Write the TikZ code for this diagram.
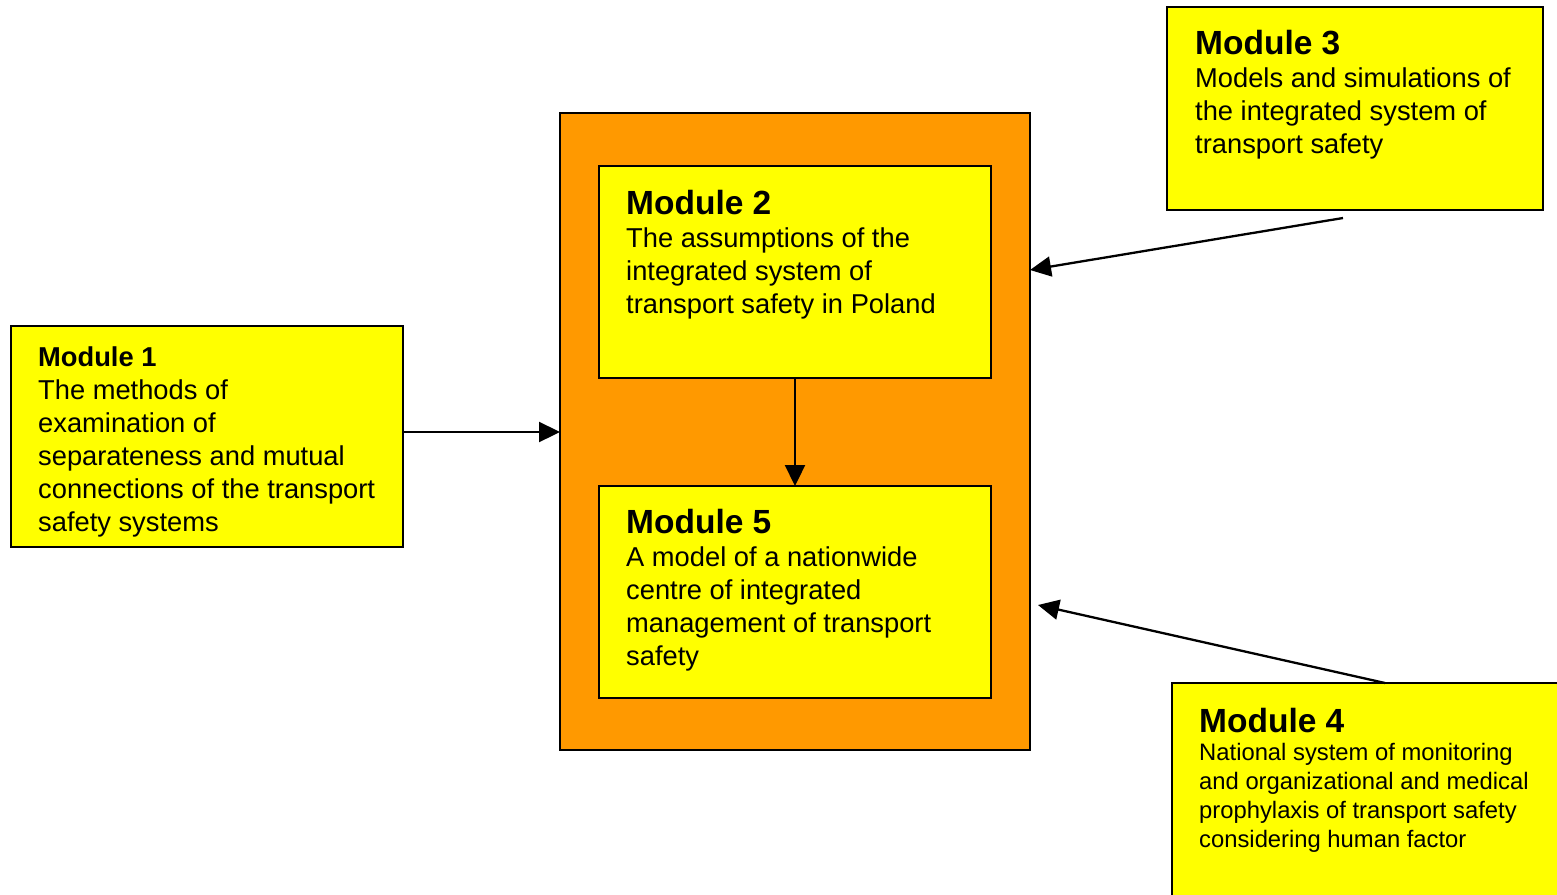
\documentclass[tikz,border=0pt]{standalone}
\usepackage{fontspec}
\setmainfont{Liberation Sans}
\usetikzlibrary{arrows.meta}
\definecolor{modyellow}{HTML}{FFFF00}
\definecolor{modorange}{HTML}{FF9900}
\tikzset{
  modbox/.style={draw=black, line width=2.3pt, fill=modyellow, anchor=north west, inner sep=0pt, outer sep=0pt},
  outerbox/.style={draw=black, line width=2.3pt, fill=modorange, anchor=north west, inner sep=0pt, outer sep=0pt},
  modtext/.style={anchor=base west, inner sep=0pt, align=left, font=\fontsize{27.3}{33}\selectfont},
  smalltext/.style={anchor=base west, inner sep=0pt, align=left, font=\fontsize{23.8}{28.7}\selectfont},
  arr/.style={line width=2.3pt, -{Triangle[length=21pt,width=20pt]}},
}
\newcommand{\modtitle}[1]{{\bfseries\fontsize{33.5}{40}\selectfont #1}}
\begin{document}
\begin{tikzpicture}[x=1pt,y=-1pt]
\useasboundingbox (0,0) rectangle (1557,894);
\clip (0,0) rectangle (1557,894);
\fill[white] (0,0) rectangle (1557,894);
% boxes
\node[outerbox, minimum width=470pt, minimum height=637pt] (outer) at (560,113) {};
\node[modbox, minimum width=392pt, minimum height=212pt] (m2) at (599,166) {};
\node[modbox, minimum width=392pt, minimum height=212pt] (m5) at (599,486) {};
\node[modbox, minimum width=392pt, minimum height=221pt] (m1) at (11,326) {};
\node[modbox, minimum width=376pt, minimum height=203pt] (m3) at (1167,7) {};
\node[modbox, minimum width=426pt, minimum height=270pt] (m4) at (1172,683) {};
% texts (anchored at the baseline of their last line)
\node[modtext] (t1) at (38,531) {{\bfseries Module 1}\\The methods of\\examination of\\separateness and mutual\\connections of the transport\\safety systems};
\node[modtext] (t2) at (626,313) {\modtitle{Module 2}\\The assumptions of the\\integrated system of\\transport safety in Poland};
\node[modtext] (t3) at (1195,153) {\modtitle{Module 3}\\Models and simulations of\\the integrated system of\\transport safety};
\node[modtext] (t5) at (626,665) {\modtitle{Module 5}\\A model of a nationwide\\centre of integrated\\management of transport\\safety};
\node[smalltext] (t4) at (1199,847) {\modtitle{Module 4}\\National system of monitoring\\and organizational and medical\\prophylaxis of transport safety\\considering human factor};
% connectors
\draw[arr] ([yshift=4.5pt]m1.east) -- ([yshift=4.5pt]m1.east -| outer.west);
\draw[arr] (m2.south) -- (m5.north);
\draw[arr] ([xshift=-12pt,yshift=-8pt]m3.south) -- (outer.east |- 0,270);
\draw[arr] (m4.north) -- ([xshift=8pt]outer.east |- 0,605);
\end{tikzpicture}
\end{document}
